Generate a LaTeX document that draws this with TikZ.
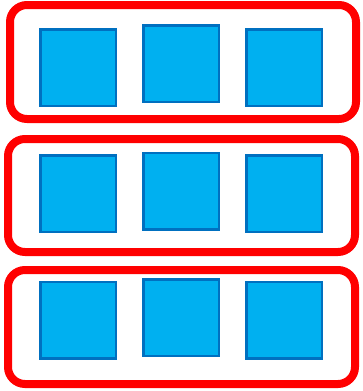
\documentclass[tikz,border=0pt]{standalone}
\begin{document}
\begin{tikzpicture}[x=1pt,y=-1pt,
  group/.style={draw=red, line width=8pt, rounded corners=17pt, rectangle, inner sep=0pt},
  cell/.style={draw=cellline, fill=cellfill, line width=2.5pt, rectangle, inner sep=0pt, minimum width=75.5pt, minimum height=76.5pt}]
\definecolor{cellfill}{HTML}{00B0F0}
\definecolor{cellline}{HTML}{0070C0}
\useasboundingbox (0,0) rectangle (363,391);
% groups
\node[group, minimum width=346pt, minimum height=114pt] (g1) at (183,62) {};
\node[group, minimum width=347pt, minimum height=113pt] (g2) at (181.5,195.5) {};
\node[group, minimum width=347pt, minimum height=114pt] (g3) at (181.5,327) {};
% cells row 1
\node[cell] (a1) at (78,67.5) {};
\node[cell] (a2) at (181,63.5) {};
\node[cell] (a3) at (284,67.5) {};
% cells row 2
\node[cell] (b1) at (78,193.5) {};
\node[cell] (b2) at (181,191) {};
\node[cell] (b3) at (284,193.5) {};
% cells row 3
\node[cell] (c1) at (78,320) {};
\node[cell] (c2) at (181,317.5) {};
\node[cell] (c3) at (284,320) {};
\end{tikzpicture}
\end{document}
